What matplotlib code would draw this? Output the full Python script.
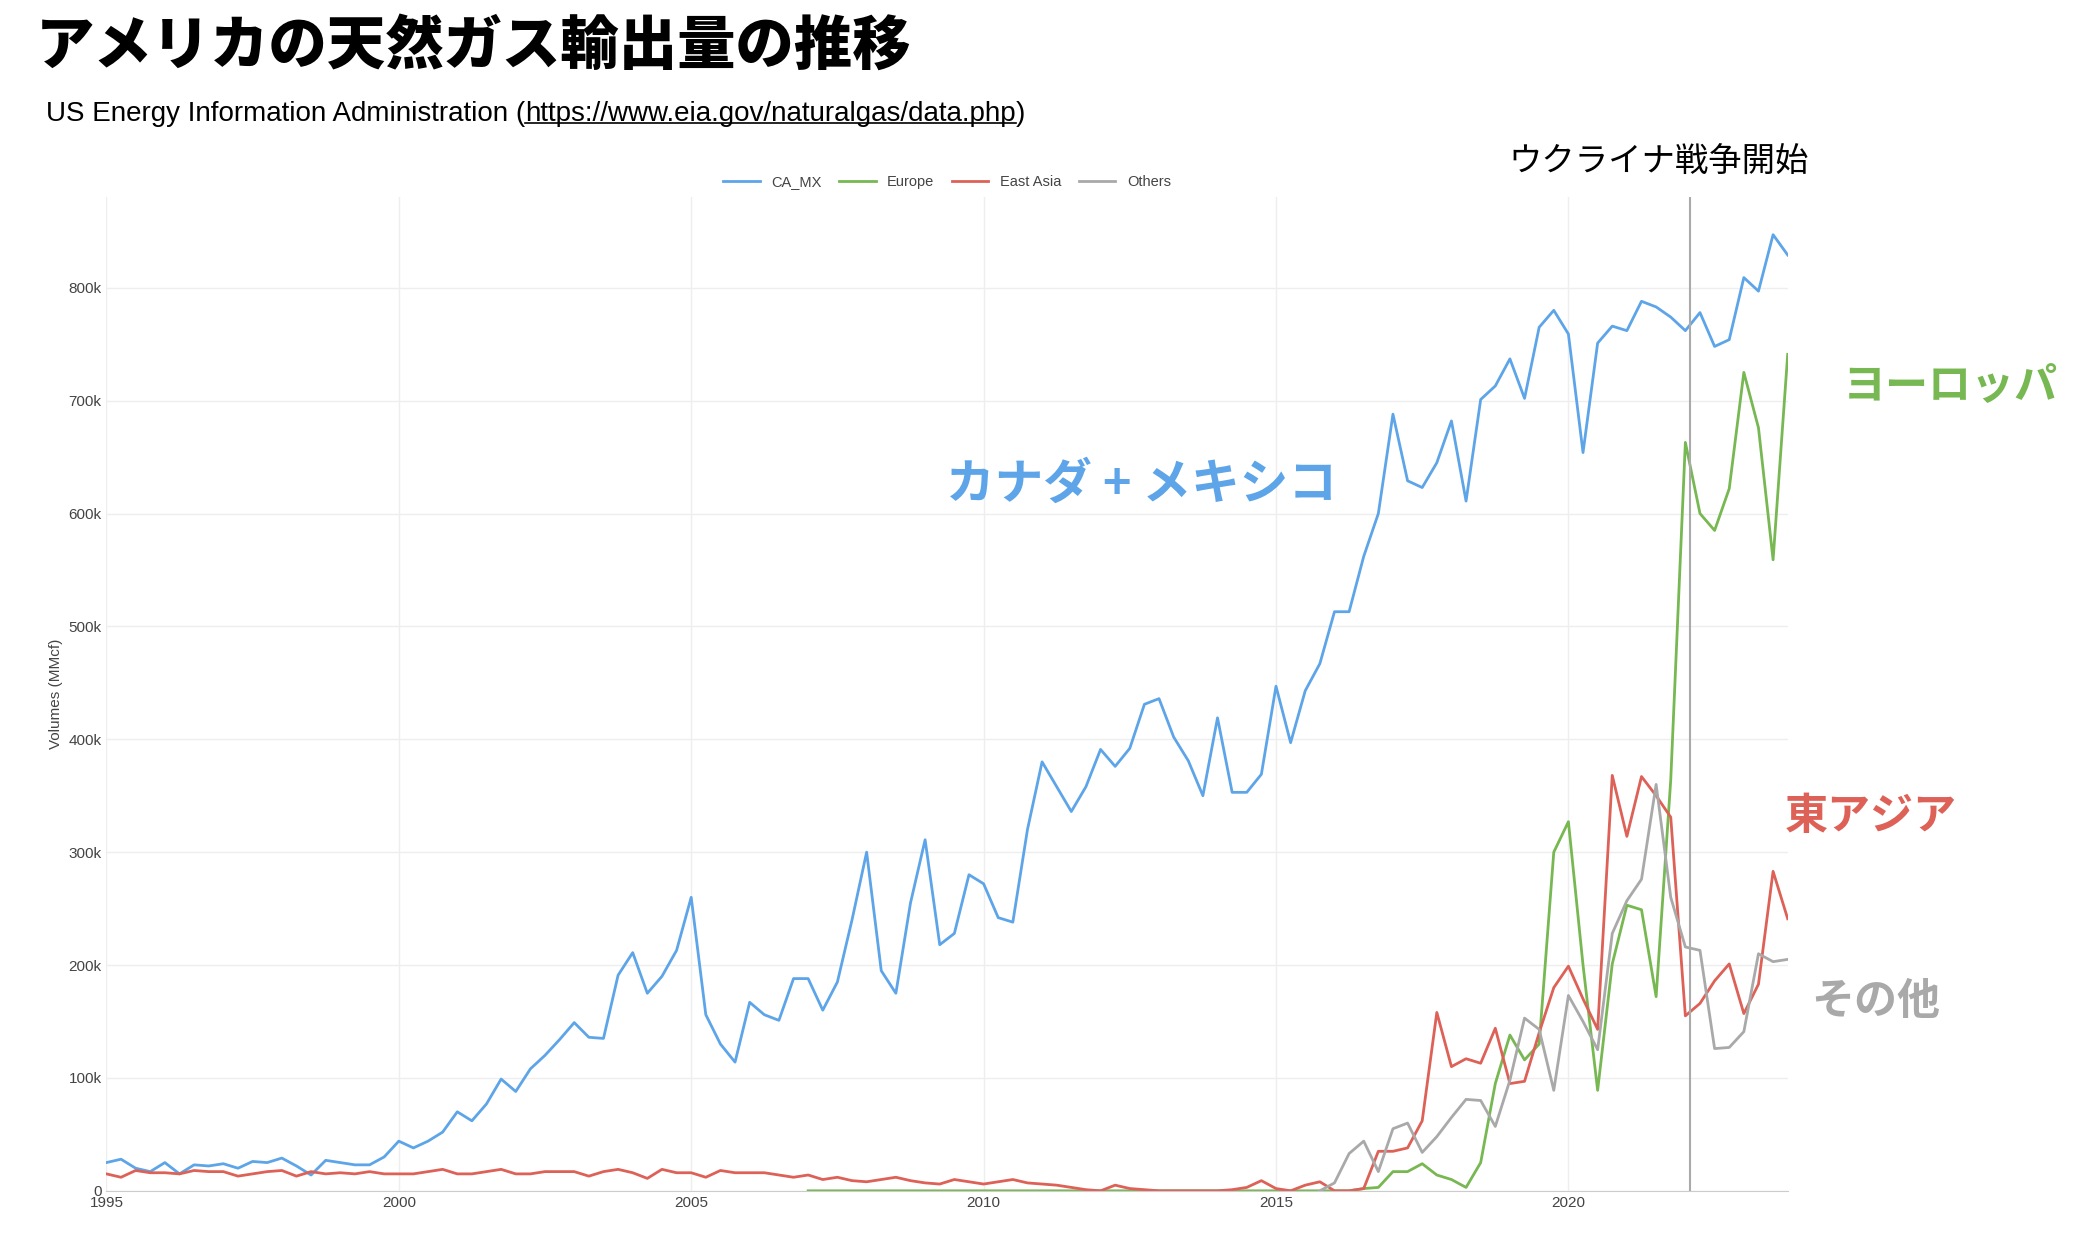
import numpy as np
import matplotlib.pyplot as plt
from matplotlib.lines import Line2D

plt.rcParams['font.family'] = ['Noto Sans CJK JP', 'DejaVu Sans']

# quarterly data, 1995 Q1 .. 2023 Q4 (thousand MMcf)
ca_mx = [25, 28, 20, 17, 25, 15, 23, 22, 24, 20, 26, 25, 29, 22, 14, 27,
         25, 23, 23, 30, 44, 38, 44, 52, 70, 62, 77, 99, 88, 108, 120, 134,
         149, 136, 135, 191, 211, 175, 190, 213, 260, 156, 130, 114, 167, 156, 151, 188,
         188, 160, 185, 240, 300, 195, 175, 255, 311, 218, 228, 280, 272, 242, 238, 320,
         380, 358, 336, 358, 391, 376, 392, 431, 436, 402, 381, 350, 419, 353, 353, 369,
         447, 397, 443, 467, 513, 513, 562, 600, 688, 629, 623, 645, 682, 611, 701, 713,
         737, 702, 765, 780, 759, 654, 751, 766, 762, 788, 783, 774, 762, 778, 748, 754,
         809, 797, 847, 829]
east_asia = [15, 12, 18, 16, 16, 15, 18, 17, 17, 13, 15, 17, 18, 13, 17, 15,
             16, 15, 17, 15, 15, 15, 17, 19, 15, 15, 17, 19, 15, 15, 17, 17,
             17, 13, 17, 19, 16, 11, 19, 16, 16, 12, 18, 16, 16, 16, 14, 12,
             14, 10, 12, 9, 8, 10, 12, 9, 7, 6, 10, 8, 6, 8, 10, 7,
             6, 5, 3, 1, 0, 5, 2, 1, 0, 0, 0, 0, 0, 1, 3, 9,
             2, 0, 5, 8, 0, 0, 2, 35, 35, 38, 62, 158, 110, 117, 113, 144,
             95, 97, 140, 180, 199, 170, 143, 368, 314, 367, 350, 331, 155, 166, 186, 201,
             157, 183, 283, 241]
# Europe from 2007 Q1
europe = [0] * 36 + [0, 0, 2, 3, 17, 17, 24, 14, 10, 3, 25, 95,
                     138, 116, 130, 300, 327, 200, 89, 201, 253, 249, 172, 364,
                     663, 600, 585, 622, 725, 676, 559, 741]
# Others from 2015 Q4
others = [0, 7, 33, 44, 17, 55, 60, 34, 48, 65, 81, 80, 57,
          98, 153, 143, 89, 173, 150, 125, 228, 257, 276, 360, 260,
          216, 213, 126, 127, 141, 210, 203, 205]

n = len(ca_mx)
t = 1995 + np.arange(n) / 4
blue, green, red, gray = '#5DA5E8', '#77B852', '#DD6157', '#A9A9A9'
latin = ['Liberation Sans', 'Noto Sans CJK JP']

fig = plt.figure(figsize=(20.86, 12.34), dpi=100)
ax = fig.add_axes([0.051, 0.035, 0.806, 0.805])
ax.plot(t, np.array(ca_mx) * 1000, color=blue, lw=2, label='CA_MX')
ax.plot(t[n - len(europe):], np.array(europe) * 1000, color=green, lw=2, label='Europe')
ax.plot(t, np.array(east_asia) * 1000, color=red, lw=2, label='East Asia')
ax.plot(t[n - len(others):], np.array(others) * 1000, color=gray, lw=2, label='Others')
ax.axvline(2022.08, color='#AAAAAA', lw=1.5)

ax.set_xlim(1995, t[-1])
ax.set_ylim(0, 880000)
ax.set_xticks([1995, 2000, 2005, 2010, 2015, 2020])
ax.set_yticks(np.arange(0, 900000, 100000))
ax.set_yticklabels(['0'] + ['%dk' % (v * 100) for v in range(1, 9)])
ax.grid(color='#EEEEEE', lw=1)
ax.set_axisbelow(True)
for s in ['top', 'right', 'left']:
    ax.spines[s].set_visible(False)
ax.spines['bottom'].set_color('#CCCCCC')
ax.tick_params(length=0, labelsize=11, labelcolor='#444444')
for lab in ax.get_xticklabels() + ax.get_yticklabels():
    lab.set_family(latin)
ax.set_ylabel('Volumes (MMcf)', fontsize=11, color='#444444', family=latin)
ax.legend(loc='lower center', bbox_to_anchor=(0.5, 0.995), ncol=4, frameon=False,
          handlelength=2.5, columnspacing=1.2, labelcolor='#444444',
          prop={'family': latin, 'size': 10.5})

fig.text(0.017, 0.962, 'アメリカの天然ガス輸出量の推移', fontsize=42, fontweight='heavy', va='center')
sub_y = 0.908
t1 = fig.text(0.022, sub_y, 'US Energy Information Administration (', fontsize=20,
              va='center', family=latin)
fig.canvas.draw()
r = fig.canvas.get_renderer()
bb = t1.get_window_extent(r)
x2 = bb.x1 / fig.bbox.width
t2 = fig.text(x2, sub_y, 'https://www.eia.gov/naturalgas/data.php', fontsize=20,
              va='center', family=latin)
bb2 = t2.get_window_extent(r)
x3 = bb2.x1 / fig.bbox.width
fig.text(x3, sub_y, ')', fontsize=20, va='center', family=latin)
uy = bb2.y0 / fig.bbox.height + 0.003
fig.add_artist(Line2D([x2, x3], [uy, uy], color='black', lw=1.2, transform=fig.transFigure))

fig.text(0.795, 0.868, 'ウクライナ戦争開始', fontsize=24, ha='center', va='center')
ax.text(2012.7, 626000, 'カナダ + メキシコ', color=blue, fontsize=35, fontweight='bold',
        ha='center', va='center')
fig.text(0.935, 0.687, 'ヨーロッパ', color=green, fontsize=31, fontweight='bold', ha='center', va='center')
fig.text(0.897, 0.339, '東アジア', color=red, fontsize=31, fontweight='bold', ha='center', va='center')
fig.text(0.899, 0.189, 'その他', color=gray, fontsize=31, fontweight='bold', ha='center', va='center')

fig.savefig('out.png', dpi=100, facecolor='white')
